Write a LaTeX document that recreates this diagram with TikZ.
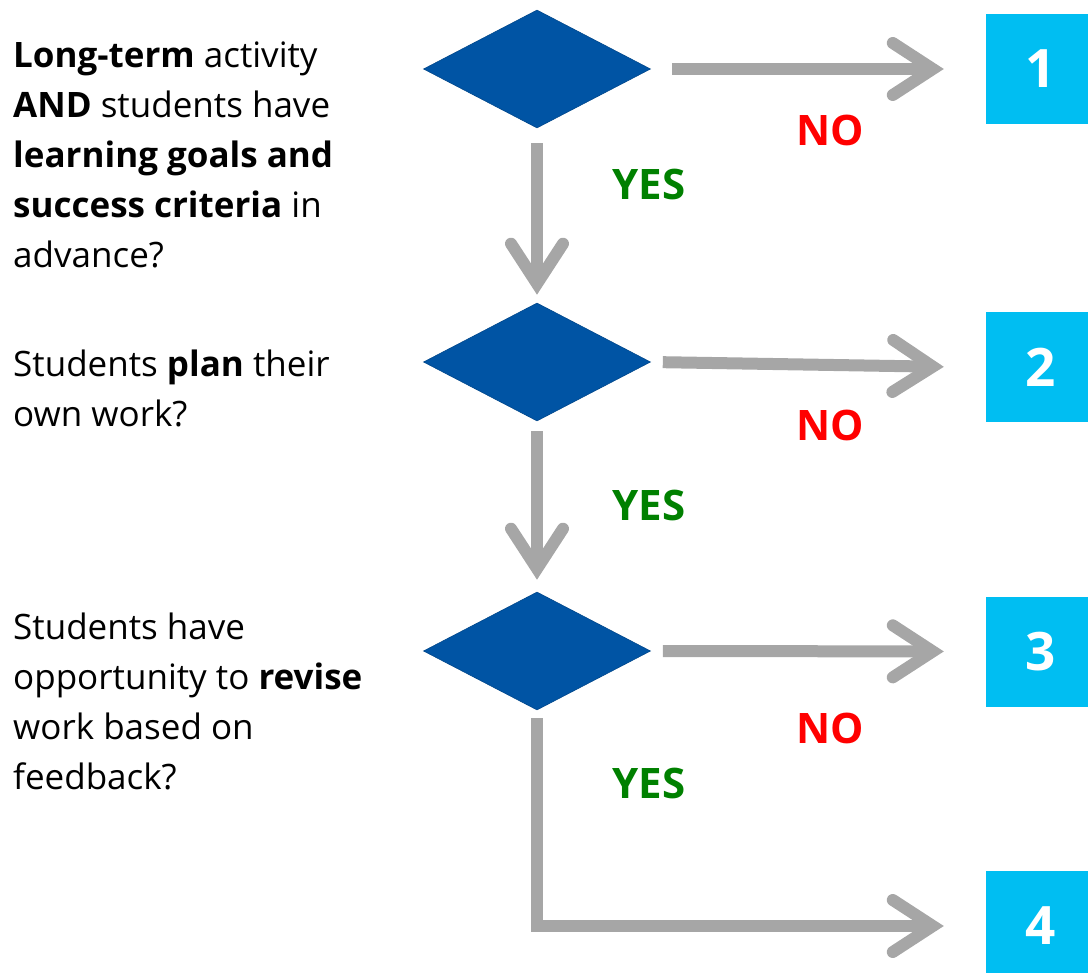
\documentclass[tikz,border=0pt]{standalone}
\usepackage{fontspec}
\setmainfont{Open Sans}
\usetikzlibrary{shapes.geometric,arrows.meta}

\definecolor{karo}{RGB}{0,84,164}
\definecolor{kutu}{RGB}{0,190,242}
\definecolor{okgri}{RGB}{166,166,166}
\definecolor{hayir}{RGB}{255,0,0}
\definecolor{evet}{RGB}{0,128,0}

\tikzset{
  decision/.style={diamond, fill=karo, draw=karo!85!black, line width=0.6pt,
    minimum width=227pt, minimum height=118pt, inner sep=0pt},
  outcome/.style={rectangle, fill=kutu, minimum width=110pt, minimum height=110pt,
    inner sep=0pt, text=white, font=\fontsize{53}{60}\selectfont\bfseries},
  flow/.style={draw=okgri, line width=12pt,
    -{Straight Barb[length=40pt, width=52pt, line cap=round]}},
  question/.style={anchor=north west, align=left, inner sep=0pt,
    font=\fontsize{35}{50}\selectfont},
  nolabel/.style={text=hayir, font=\fontsize{42}{46}\selectfont\bfseries},
  yeslabel/.style={text=evet, font=\fontsize{42}{46}\selectfont\bfseries}
}

\begin{document}
\begin{tikzpicture}[x=1pt, y=-1pt]
        \useasboundingbox (0,0) rectangle (1088,973);

        % Sorular
        \node[question] (txt1) at (13,41.5) {\textbf{Long-term} activity\\\textbf{AND} students have\\\textbf{learning goals and}\\\textbf{success criteria} in\\advance?};
        \node[question] (txt2) at (13,349.5) {Students \textbf{plan} their\\own work?};
        \node[question] (txt3) at (13,612.5) {Students have\\opportunity to \textbf{revise}\\work based on\\feedback?};

        % Karolar
        \node[decision] (q1) at (537,69) {};
        \node[decision] (q2) at (537,362) {};
        \node[decision] (q3) at (537,651) {};

        % Kutular
        \begin{scope}
        \clip (0,0) rectangle (1088,973);
        \node[outcome] (out1) at (1041,69) {1};
        \node[outcome] (out2) at (1041,367.5) {2};
        \node[outcome] (out3) at (1041,651.5) {3};
        \node[outcome] (out4) at (1041,926) {4};
        \end{scope}

        % NO oklari
        \draw[flow, shorten <=21pt, shorten >=42pt] (q1.east) -- (out1.west);
        \draw[flow, shorten <=12pt, shorten >=42pt] (q2.east) -- (out2.west);
        \draw[flow, shorten <=12pt, shorten >=42pt] (q3.east) -- (out3.west);

        % YES oklari
        \draw[flow, shorten <=15pt, shorten >=8pt] (q1.south) -- (q2.north);
        \draw[flow, shorten <=10pt, shorten >=12pt] (q2.south) -- (q3.north);
        \draw[flow, shorten <=8pt, shorten >=42pt] (q3.south) |- (out4.west);

        % Etiketler
        \node[nolabel] (no1) at (830,130) {NO};
        \node[nolabel] (no2) at (830,425) {NO};
        \node[nolabel] (no3) at (830,728) {NO};
        \node[yeslabel] (yes1) at (649,185) {YES};
        \node[yeslabel] (yes2) at (649,505) {YES};
        \node[yeslabel] (yes3) at (649,783) {YES};

    \end{tikzpicture}
\end{document}
